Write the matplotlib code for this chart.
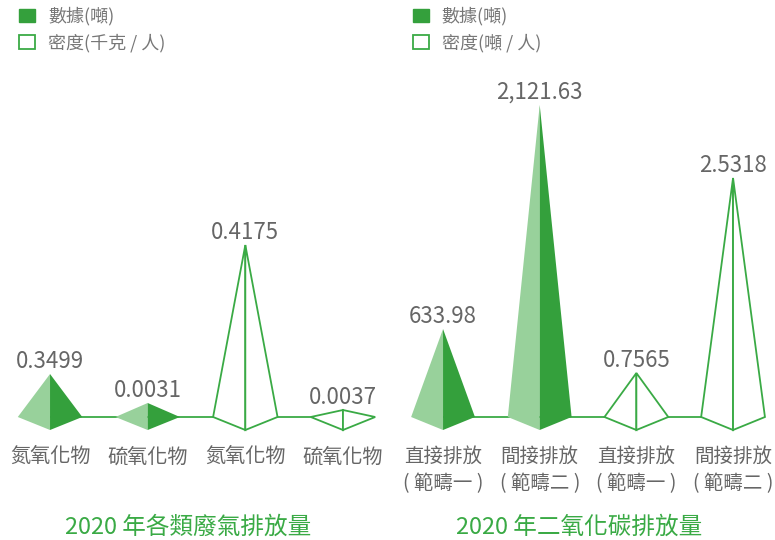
import matplotlib.pyplot as plt
from matplotlib.patches import Polygon, Patch
from matplotlib.transforms import blended_transform_factory

plt.rcParams['font.family'] = ['Noto Sans CJK TC', 'DejaVu Sans']

GREEN_DARK = '#34a03c'
GREEN_LIGHT = '#98d19b'
GREEN_LINE = '#3aaa45'
GRAY = '#666666'

# left panel: waste gas
gas_cats = ['氮氧化物', '硫氧化物', '氮氧化物', '硫氧化物']
gas_amount = [0.3499, 0.0031]      # 數據(噸), categories 0-1
gas_density = [0.4175, 0.0037]     # 密度(千克 / 人), categories 2-3
gas_labels = ['0.3499', '0.0031', '0.4175', '0.0037']

# right panel: carbon dioxide
co2_cats = ['直接排放\n( 範疇一 )', '間接排放\n( 範疇二 )', '直接排放\n( 範疇一 )', '間接排放\n( 範疇二 )']
co2_amount = [633.98, 2121.63]     # 數據(噸)
co2_density = [0.7565, 2.5318]     # 密度(噸 / 人)
co2_labels = ['633.98', '2,121.63', '0.7565', '2.5318']

W, H = 775, 540
fig = plt.figure(figsize=(W / 100, H / 100), dpi=100)

HALF_W = 0.33     # half width of a pyramid, x data units
DEPTH = 13 / 357  # front point below baseline, axes fraction


def pyramid(ax, x, v, filled):
    tr = blended_transform_factory(ax.transData, ax.transAxes)
    top = ax.transAxes.inverted().transform(ax.transData.transform((x, v)))[1]
    left = [(x - HALF_W, 0), (x, top), (x, -DEPTH)]
    right = [(x, -DEPTH), (x, top), (x + HALF_W, 0)]
    if filled:
        ax.add_patch(Polygon(left, closed=True, fc=GREEN_LIGHT, ec='none', transform=tr, clip_on=False, zorder=3))
        ax.add_patch(Polygon(right, closed=True, fc=GREEN_DARK, ec='none', transform=tr, clip_on=False, zorder=3))
    else:
        for pts in (left, right):
            ax.add_patch(Polygon(pts, closed=True, fc='white', ec=GREEN_LINE, lw=1.3,
                                 joinstyle='miter', transform=tr, clip_on=False, zorder=3))


def panel(x0, x1, xmax, cats, cat_size, amount, density, labels, lim_a, lim_d, title, title_x, dens_name):
    rect = [x0 / W, 1 - 417 / H, (x1 - x0) / W, 357 / H]
    ax = fig.add_axes(rect)
    ax.set_xlim(-0.5, xmax)
    ax.set_ylim(*lim_a)
    ax2 = ax.twinx()
    ax2.set_ylim(*lim_d)
    for a in (ax, ax2):
        for s in a.spines.values():
            s.set_visible(False)
        a.set_yticks([])
        a.patch.set_visible(False)

    # baseline joining the pyramids
    tr = blended_transform_factory(ax.transData, ax.transAxes)
    ax.plot([0, 3], [0, 0], color=GREEN_LINE, lw=1.3, transform=tr, clip_on=False, zorder=1)

    for i, v in enumerate(amount):
        pyramid(ax, i, v, True)
        ax.annotate(labels[i], xy=(i, v), xytext=(0, 6), textcoords='offset pixels',
                    ha='center', va='baseline', fontsize=16, color=GRAY, annotation_clip=False)
    for j, v in enumerate(density):
        i = j + len(amount)
        pyramid(ax2, i, v, False)
        ax2.annotate(labels[i], xy=(i, v), xytext=(0, 6), textcoords='offset pixels',
                     ha='center', va='baseline', fontsize=16, color=GRAY, annotation_clip=False)

    ax.set_xticks(range(len(cats)))
    ax.set_xticklabels(cats, fontsize=cat_size, color=GRAY)
    for lbl in ax.get_xticklabels():
        lbl.set_linespacing(1.35)
    ax.tick_params(axis='x', length=0, pad=21)

    fig.text(title_x / W, 1 - 527 / H, title, ha='center', va='center', fontsize=17, color=GREEN_LINE)

    handles = [Patch(fc=GREEN_DARK, ec=GREEN_DARK), Patch(fc='white', ec=GREEN_LINE, lw=1.3)]
    fig.legend(handles, ['數據(噸)', dens_name], loc='upper left',
               bbox_to_anchor=((x0 + 18) / W, 1 - 7 / H), bbox_transform=fig.transFigure,
               frameon=False, fontsize=13, labelcolor='#777777', handlelength=0.9, handleheight=0.8,
               handletextpad=0.7, labelspacing=0.45, borderpad=0, borderaxespad=0)


panel(1.2, 391.8, 3.5, gas_cats, 14.5, gas_amount, gas_density, gas_labels,
      (-0.1644, 4.106), (-0.01385, 0.8816), '2020 年各類廢氣排放量', 188, '密度(千克 / 人)')
panel(394.7, 775, 3.434, co2_cats, 14, co2_amount, co2_density, co2_labels,
      (49.55, 2420.6), (0.356, 3.606), '2020 年二氧化碳排放量', 579, '密度(噸 / 人)')

fig.savefig('out.png', dpi=100)
